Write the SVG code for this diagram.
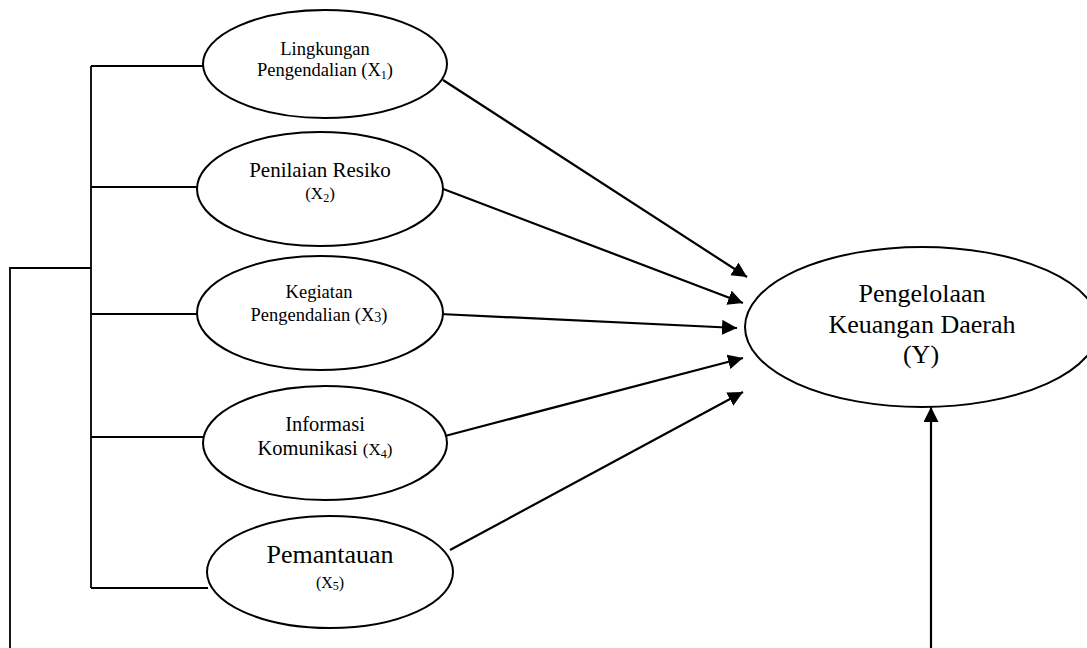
<svg xmlns="http://www.w3.org/2000/svg" width="1087" height="648" viewBox="0 0 1087 648">
<style>
.node ellipse{fill:#fff;stroke:#000;stroke-width:2}
text{font-family:"Liberation Serif","Times New Roman",serif;fill:#000;text-anchor:middle}
.br{fill:none;stroke:#000;stroke-width:1.8}
.ar{fill:none;stroke:#000;stroke-width:2.2;marker-end:url(#ah)}
</style>
<defs>
<marker id="ah" markerUnits="userSpaceOnUse" markerWidth="16" markerHeight="16" refX="15" refY="7.5" orient="auto">
<path d="M0,0 L15,7.5 L0,15 z" fill="#000"/>
</marker>
</defs>
<rect width="1087" height="648" fill="#fff"/>
<g id="connectors">
<path class="br" d="M91,66 V588 M91,66 H203 M91,187 H197 M91,314 H197 M91,437 H203 M91,588 H208 M91,268 H10 V648"/>
<line class="ar" x1="443" y1="80" x2="747" y2="277"/>
<line class="ar" x1="438" y1="187" x2="743" y2="303"/>
<line class="ar" x1="440" y1="314" x2="737" y2="328"/>
<line class="ar" x1="445" y1="436" x2="743" y2="358"/>
<line class="ar" x1="450" y1="550" x2="743" y2="392"/>
<line class="ar" x1="931" y1="648" x2="931" y2="407"/>
</g>
<g id="x1" class="node">
<ellipse cx="325" cy="64" rx="122" ry="54"/>
<text x="325" y="55" font-size="18.5">Lingkungan</text>
<text x="325" y="76" font-size="18.5">Pengendalian (X<tspan font-size="12" dy="3">1</tspan><tspan dy="-3">)</tspan></text>
</g>
<g id="x2" class="node">
<ellipse cx="320" cy="189" rx="123" ry="57"/>
<text x="320" y="177" font-size="21">Penilaian Resiko</text>
<text x="320" y="199" font-size="17">(X<tspan font-size="12" dy="3">2</tspan><tspan dy="-3">)</tspan></text>
</g>
<g id="x3" class="node">
<ellipse cx="320" cy="313" rx="123" ry="57"/>
<text x="319" y="298" font-size="18.5">Kegiatan</text>
<text x="319" y="321" font-size="18.5">Pengendalian (X<tspan font-size="14" dy="1">3</tspan><tspan dy="-1">)</tspan></text>
</g>
<g id="x4" class="node">
<ellipse cx="325" cy="443" rx="122" ry="57"/>
<text x="325" y="431" font-size="20.5">Informasi</text>
<text x="325" y="455" font-size="20.5">Komunikasi <tspan font-size="17">(X</tspan><tspan font-size="12" dy="3">4</tspan><tspan font-size="17" dy="-3">)</tspan></text>
</g>
<g id="x5" class="node">
<ellipse cx="330" cy="572" rx="123" ry="56"/>
<text x="330" y="563" font-size="26">Pemantauan</text>
<text x="330" y="588" font-size="16">(X<tspan font-size="12" dy="2">5</tspan><tspan dy="-2">)</tspan></text>
</g>
<g id="y" class="node">
<ellipse cx="922" cy="327" rx="177" ry="80"/>
<text x="922" y="302" font-size="26">Pengelolaan</text>
<text x="922" y="333" font-size="26">Keuangan Daerah</text>
<text x="921" y="363" font-size="26">(Y)</text>
</g>
</svg>
